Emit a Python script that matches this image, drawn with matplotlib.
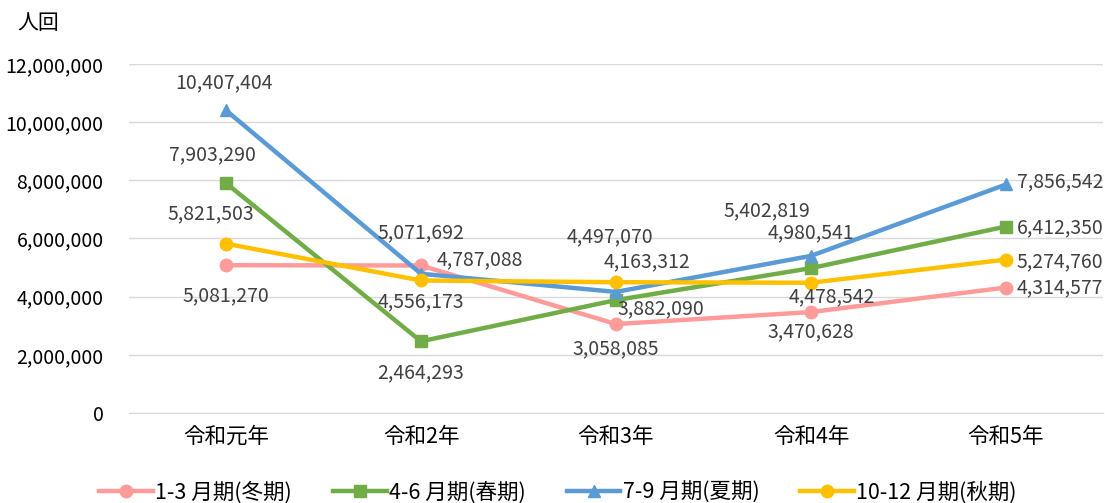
import matplotlib
import matplotlib.pyplot as plt
from matplotlib.ticker import FuncFormatter

matplotlib.use('Agg')
plt.rcParams['font.family'] = ['Noto Sans CJK JP', 'DejaVu Sans']

years = ['令和元年', '令和2年', '令和3年', '令和4年', '令和5年']
q1 = [5081270, 5071692, 3058085, 3470628, 4314577]    # 1-3 月期(冬期)
q2 = [7903290, 2464293, 3882090, 4980541, 6412350]    # 4-6 月期(春期)
q3 = [10407404, 4787088, 4163312, 5402819, 7856542]   # 7-9 月期(夏期)
q4 = [5821503, 4556173, 4497070, 4478542, 5274760]    # 10-12 月期(秋期)

series = [
    ('1-3 月期(冬期)', q1, '#FF9B9B', 'o'),
    ('4-6 月期(春期)', q2, '#70AD47', 's'),
    ('7-9 月期(夏期)', q3, '#5B9BD5', '^'),
    ('10-12 月期(秋期)', q4, '#FFC000', 'o'),
]

# ラベルの位置 (pixel offset, ha)
offsets = [
    [(0, -31, 'center'), (0, 33, 'center'), (0, -25, 'center'), (0, -20, 'center'), (11, 0, 'left')],
    [(-14, 28, 'center'), (0, -31, 'center'), (45, -9, 'center'), (0, 35, 'center'), (11, -1, 'left')],
    [(-2, 28, 'center'), (59, 14, 'center'), (31, 30, 'center'), (-44, 45, 'center'), (11, 3, 'left')],
    [(-15, 30, 'center'), (0, -21, 'center'), (-6, 45, 'center'), (21, -14, 'center'), (11, -2, 'left')],
]

fig = plt.figure(figsize=(11.05, 5.03), dpi=100)
ax = fig.add_axes([0.1163, 0.1789, 0.8823, 0.6939])

x = range(len(years))
for (name, vals, col, mk), offs in zip(series, offsets):
    ax.plot(x, vals, color=col, marker=mk, markersize=9, linewidth=3.2, label=name)
    for xi, v, (dx, dy, ha) in zip(x, vals, offs):
        ax.annotate(f'{v:,}', (xi, v), xytext=(dx, dy), textcoords='offset pixels',
                    ha=ha, va='center', fontsize=14, color='#404040')

ax.set_xlim(-0.5, len(years) - 0.5)
ax.set_ylim(0, 12000000)
ax.set_yticks(range(0, 12000001, 2000000))
ax.yaxis.set_major_formatter(FuncFormatter(lambda v, p: f'{int(v):,}'))
ax.set_xticks(list(x))
ax.set_xticklabels(years, fontsize=15.5)
ax.tick_params(axis='y', labelsize=14, length=0, pad=18)
ax.tick_params(axis='x', length=0, pad=9)
ax.grid(axis='y', color='#D9D9D9', linewidth=1)
ax.set_axisbelow(True)
for s in ['top', 'right', 'left']:
    ax.spines[s].set_visible(False)
ax.spines['bottom'].set_color('#D9D9D9')

fig.text(0.016, 0.955, '人回', fontsize=15, va='center', ha='left')

fig.legend(loc='lower center', bbox_to_anchor=(0.505, -0.04), ncol=4, frameon=False,
           fontsize=15.5, handlelength=2.5, columnspacing=1.9, handletextpad=0.1)

fig.savefig('out.png', dpi=100)
